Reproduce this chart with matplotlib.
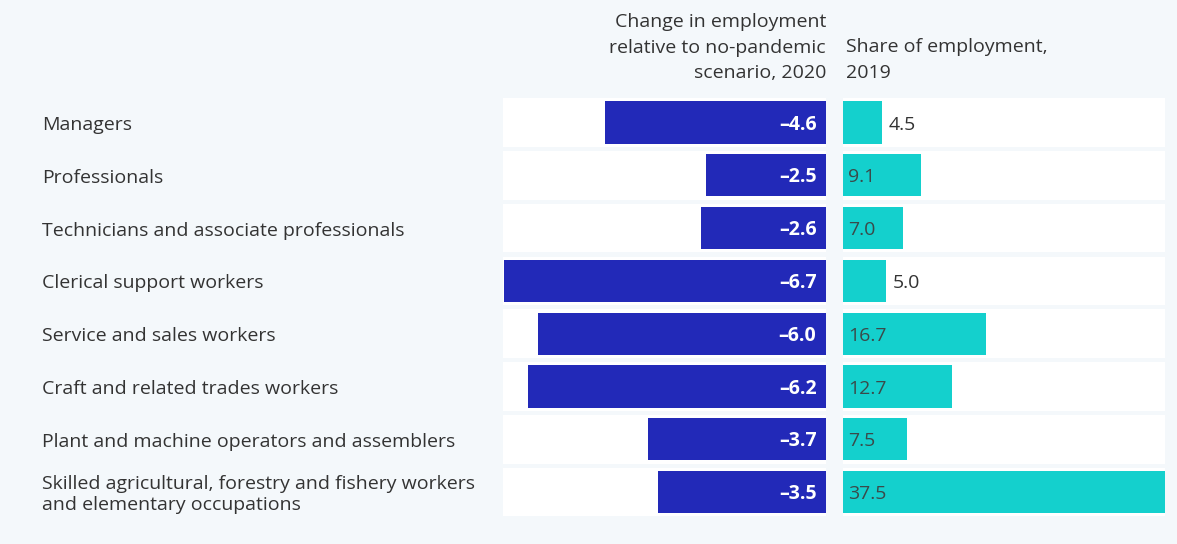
import numpy as np
import matplotlib.pyplot as plt
from matplotlib.transforms import blended_transform_factory

plt.rcParams['font.family'] = ['Open Sans', 'DejaVu Sans']

occupations = [
    'Managers',
    'Professionals',
    'Technicians and associate professionals',
    'Clerical support workers',
    'Service and sales workers',
    'Craft and related trades workers',
    'Plant and machine operators and assemblers',
    'Skilled agricultural, forestry and fishery workers\nand elementary occupations',
]
change_2020 = [-4.6, -2.5, -2.6, -6.7, -6.0, -6.2, -3.7, -3.5]
share_2019 = [4.5, 9.1, 7.0, 5.0, 16.7, 12.7, 7.5, 37.5]

header_left = 'Change in employment\nrelative to no-pandemic\nscenario, 2020'
header_right = 'Share of employment,\n2019'

bg = '#f4f8fb'
blue = '#2229b8'
cyan = '#14d0cd'
txt = '#333333'
fs = 14

W, H = 1177, 544
fig = plt.figure(figsize=(W / 100, H / 100), dpi=100)
fig.patch.set_facecolor(bg)

bottom = 1 - 518.5 / H
top = 1 - 96 / H
ax1 = fig.add_axes([503 / W, bottom, (826 - 503) / W, top - bottom])
ax2 = fig.add_axes([843 / W, bottom, (1165 - 843) / W, top - bottom])

y = np.arange(len(occupations))

for ax in (ax1, ax2):
    ax.set_facecolor(bg)
    for s in ax.spines.values():
        s.set_visible(False)
    ax.set_xticks([])
    ax.set_yticks([])
    ax.set_ylim(len(occupations) - 0.5, -0.5)

# white row bands
ax1.set_xlim(-6.72, 0)
ax2.set_xlim(0, 37.5)
ax1.barh(y, [-6.72] * len(y), height=0.92, color='white', zorder=1)
ax2.barh(y, [37.5] * len(y), height=0.92, color='white', zorder=1)

ax1.barh(y, change_2020, height=0.8, color=blue, zorder=2)
ax2.barh(y, share_2019, height=0.8, color=cyan, zorder=2)

for i, v in enumerate(change_2020):
    ax1.text(-0.2, i + 0.04, '–%.1f' % abs(v), ha='right', va='center',
             color='white', fontsize=fs, fontweight='bold', zorder=3)

for i, v in enumerate(share_2019):
    if v < 6:
        ax2.text(v + 0.8, i + 0.04, '%.1f' % v, ha='left', va='center',
                 color=txt, fontsize=fs, zorder=3)
    else:
        ax2.text(0.6, i + 0.04, '%.1f' % v, ha='left', va='center',
                 color='#3a4a4a', fontsize=fs, zorder=3)

# category labels on the left
tr = blended_transform_factory(fig.transFigure, ax1.transData)
for i, lab in enumerate(occupations):
    ax1.text(42 / W, i + 0.05, lab, ha='left', va='center', color=txt,
             fontsize=fs, linespacing=1.2, transform=tr)

fig.text(826 / W, 1 - 13 / H, header_left, ha='right', va='top',
         color=txt, fontsize=fs, linespacing=1.55)
fig.text(846 / W, 1 - 38 / H, header_right, ha='left', va='top',
         color=txt, fontsize=fs, linespacing=1.55)

fig.savefig('out.png', dpi=100, facecolor=bg)
